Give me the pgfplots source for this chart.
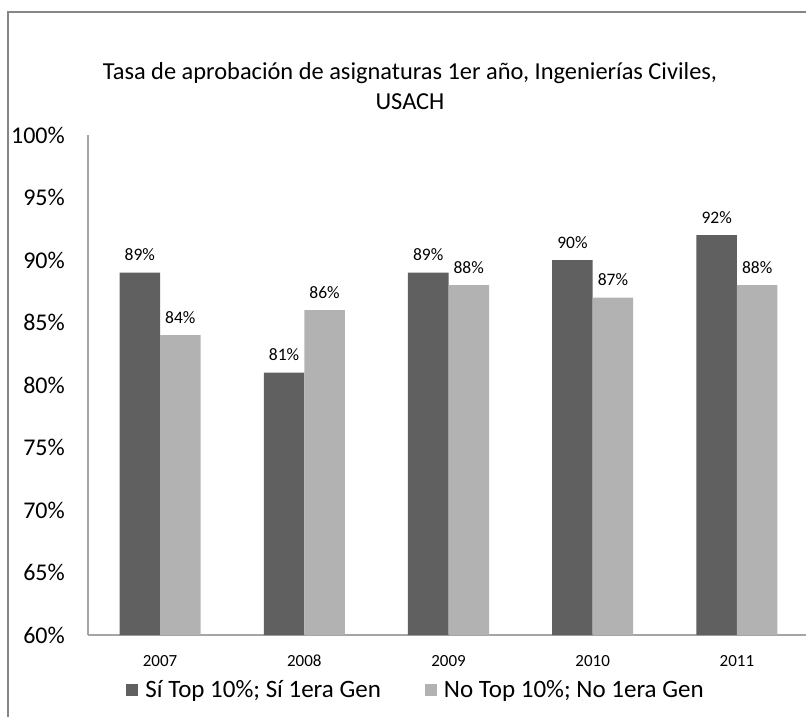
\documentclass[border=0pt]{standalone}
\usepackage{pgfplots}
\pgfplotsset{compat=1.18}
\usepackage{fontspec}
\setmainfont{Carlito}
\definecolor{darkbar}{RGB}{96,96,96}
\definecolor{lightbar}{RGB}{178,178,178}
\definecolor{axisgray}{RGB}{165,165,165}
\definecolor{framegray}{RGB}{134,134,134}
\begin{document}
\begin{tikzpicture}
\begin{axis}[
  scale only axis,
  width=721pt, height=500pt,
  ybar=0pt, bar width=40.5pt,
  xmin=-0.5, xmax=4.5, ymin=60, ymax=100,
  xtick={0,1,2,3,4}, xticklabels={2007,2008,2009,2010,2011},
  ytick={60,65,70,75,80,85,90,95,100},
  yticklabels={60\%,65\%,70\%,75\%,80\%,85\%,90\%,95\%,100\%},
  axis x line=bottom, axis y line=left,
  axis line style={-, draw=axisgray, line width=1.1pt},
  major tick length=0pt, tick style={draw=none},
  yticklabel style={font=\fontsize{24}{29}\selectfont, anchor=east, inner sep=0pt, xshift=-23pt},
  xticklabel style={font=\fontsize{17}{20}\selectfont, anchor=center, inner sep=0pt, yshift=-26pt},
  /pgf/number format/assume math mode=true,
  nodes near coords={\pgfmathprintnumber{\pgfplotspointmeta}\%},
  nodes near coords style={font=\fontsize{17.5}{21}\selectfont, anchor=south, inner sep=0pt, yshift=11.5pt},
  legend columns=2,
  legend style={at={(0.455,-0.11)}, anchor=center, draw=none, fill=none,
    font=\fontsize{25}{30}\selectfont,
    /tikz/every odd column/.append style={column sep=5pt},
    /tikz/every even column/.append style={column sep=42pt}},
  legend image code/.code={\fill[#1,draw=none] (0pt,-6pt) rectangle (12pt,6pt);},
]
\addplot[fill=darkbar, draw=none] coordinates {(0,89) (1,81) (2,89) (3,90) (4,92)};
\addplot[fill=lightbar, draw=none] coordinates {(0,84) (1,86) (2,88) (3,87) (4,88)};
\legend{Sí Top 10\%; Sí 1era Gen, No Top 10\%; No 1era Gen}
\coordinate (O) at (rel axis cs:0,0);
\end{axis}
\pgfresetboundingbox
\path[use as bounding box] ([shift={(-88pt,-81pt)}]O) rectangle +(806pt,716pt);
\draw[framegray, line width=1.2pt] ([shift={(-80pt,-120pt)}]O) -- ([shift={(-80pt,623pt)}]O) -- ([shift={(760pt,623pt)}]O);
\node[align=center, font=\fontsize{24.4}{30}\selectfont] at ([shift={(322pt,549pt)}]O) {Tasa de aprobación de asignaturas 1er año, Ingenierías Civiles,\\USACH};
\end{tikzpicture}
\end{document}
